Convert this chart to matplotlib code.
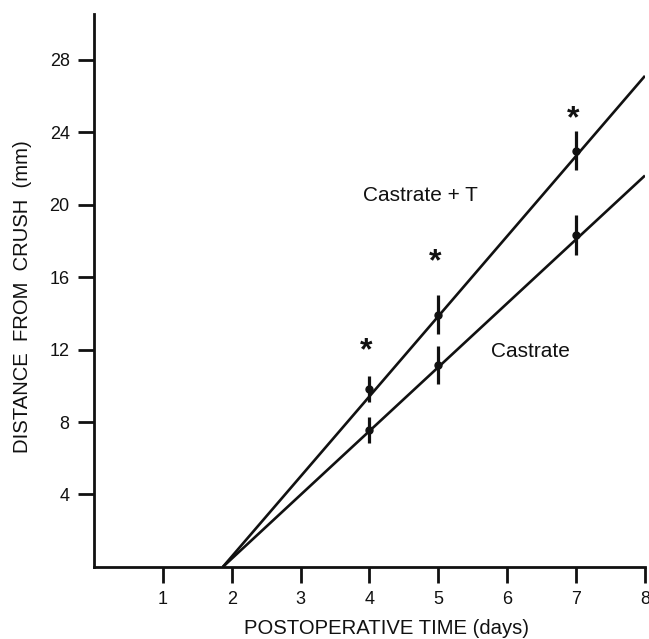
import numpy as np
import matplotlib
matplotlib.use("Agg")
import matplotlib.pyplot as plt

plt.rcParams["font.family"] = ["Liberation Sans", "DejaVu Sans"]

# measured points (mean +/- error)
days = [4, 5, 7]
castrate_t = [9.82, 13.92, 22.98]
castrate_t_err = [0.72, 1.08, 1.1]
castrate = [7.55, 11.12, 18.33]
castrate_err = [0.73, 1.05, 1.1]

# regression lines (start where they cross zero, end at axis edge)
fit_x = [1.87, 8.0]
fit_t = [0.0, 27.1]
fit_c = [0.0, 21.6]

# significance stars
star_x = [4, 5, 7]
star_y = [11.9, 16.8, 24.7]

xticks = [1, 2, 3, 4, 5, 6, 7, 8]
yticks = [4, 8, 12, 16, 20, 24, 28]

ink = "#111111"

fig = plt.figure(figsize=(6.49, 6.39), dpi=100)
ax = fig.add_axes([0.1448, 0.1127, 0.849, 0.865])

ax.plot(fit_x, fit_t, color=ink, lw=1.9, solid_capstyle="butt")
ax.plot(fit_x, fit_c, color=ink, lw=1.9, solid_capstyle="butt")

ax.errorbar(days, castrate_t, yerr=castrate_t_err, fmt="o", color=ink,
            ms=5, elinewidth=2.3, capsize=0)
ax.errorbar(days, castrate, yerr=castrate_err, fmt="o", color=ink,
            ms=5, elinewidth=2.3, capsize=0)

for sx, sy in zip(star_x, star_y):
    ax.text(sx - 0.05, sy, "*", fontsize=23, fontweight="bold",
            ha="center", va="center", color=ink)

ax.text(3.9, 20.5, "Castrate + T", fontsize=15, va="center", ha="left", color=ink)
ax.text(5.76, 11.9, "Castrate", fontsize=15, va="center", ha="left", color=ink)

ax.set_xlim(0, 8)
ax.set_ylim(0, 30.5)
ax.set_xticks(xticks)
ax.set_yticks(yticks)
ax.tick_params(length=11.5, width=2, labelsize=13, pad=6, color=ink, labelcolor=ink)

for side in ["top", "right"]:
    ax.spines[side].set_visible(False)
for side in ["left", "bottom"]:
    ax.spines[side].set_linewidth(2)
    ax.spines[side].set_color(ink)

ax.set_xlabel("POSTOPERATIVE TIME (days)", fontsize=14.6, color=ink)
ax.set_ylabel("DISTANCE  FROM  CRUSH  (mm)", fontsize=14.6, color=ink)
ax.xaxis.set_label_coords(0.53, -0.094)
ax.yaxis.set_label_coords(-0.112, 0.49)

fig.savefig("out.png", dpi=100)
